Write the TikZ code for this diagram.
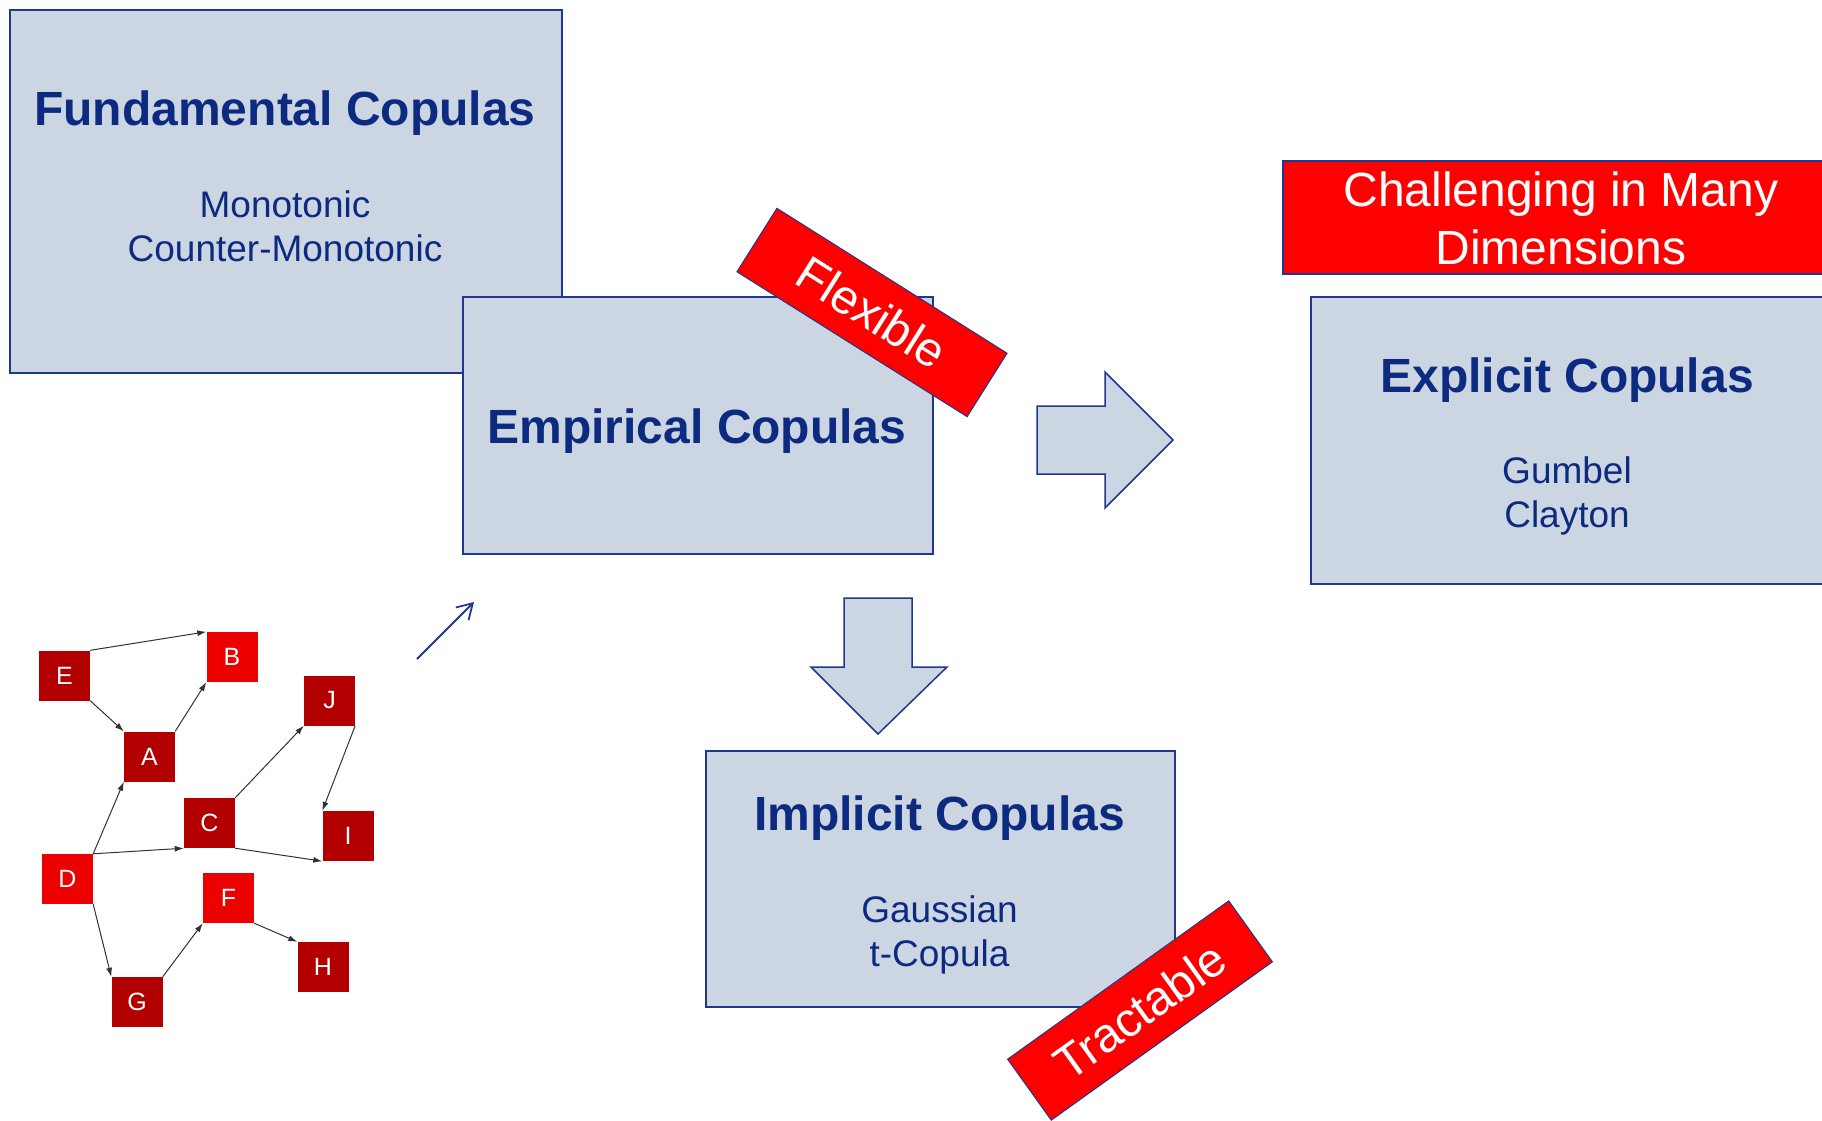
\documentclass[tikz,border=0pt]{standalone}
\usepackage{fontspec}
\setmainfont{Liberation Sans}
\usetikzlibrary{arrows.meta}

\definecolor{boxfill}{RGB}{204,213,226}
\definecolor{boxline}{RGB}{32,56,140}
\definecolor{navy}{RGB}{12,42,128}
\definecolor{tagred}{RGB}{255,0,0}
\definecolor{darknode}{RGB}{178,0,0}
\definecolor{brightnode}{RGB}{236,0,0}
\definecolor{edgegray}{RGB}{50,50,50}

\begin{document}
\begin{tikzpicture}[x=1pt,y=-1pt,
  panel/.style={draw=boxline, line width=1.5pt, fill=boxfill, inner sep=0pt, anchor=north west},
  warnbox/.style={draw=boxline, line width=1.5pt, fill=tagred, inner sep=0pt, anchor=north west},
  titletext/.style={font=\fontsize{48}{56}\selectfont\bfseries, text=navy, anchor=base, inner sep=0pt},
  subtext/.style={font=\fontsize{37}{44}\selectfont, text=navy, anchor=base, inner sep=0pt},
  warntext/.style={font=\fontsize{48}{58}\selectfont, text=white, anchor=base, inner sep=0pt},
  tag/.style={draw=boxline, line width=1pt, fill=tagred, text=white,
    font=\fontsize{48}{58}\selectfont, inner sep=0pt, minimum width=272pt, minimum height=75pt},
  blockarrow/.style={draw=boxline, line width=1.5pt, fill=boxfill, line join=miter},
  gnode/.style={minimum width=51pt, minimum height=50pt, inner sep=0pt, text=white,
    font=\fontsize{25}{29}\selectfont},
  darkg/.style={gnode, fill=darknode},
  brightg/.style={gnode, fill=brightnode},
  gedge/.style={draw=edgegray, line width=1pt, -{Latex[length=9pt,width=6pt]}},
  pointer/.style={draw=boxline, line width=1.8pt, -{Straight Barb[length=15pt,width=18pt,line width=1.8pt]}}
]
\useasboundingbox (0,0) rectangle (1822,1120);
\clip (0,0) rectangle (1822,1120);

% Fundamental copulas panel
\node[panel, minimum width=552pt, minimum height=363pt] (fund) at (9,9) {};
\node[titletext] (fundT) at (285,125) {Fundamental Copulas};
\node[subtext] (fundA) at (285,217) {Monotonic};
\node[subtext] (fundB) at (285,261) {Counter-Monotonic};

% Empirical copulas panel
\node[panel, minimum width=470pt, minimum height=257pt] (emp) at (462,296) {};
\node[titletext] (empT) at (697,443) {Empirical Copulas};

% Explicit copulas panel
\node[panel, minimum width=530pt, minimum height=287pt] (expl) at (1310,296) {};
\node[titletext] (explT) at (1567,392) {Explicit Copulas};
\node[subtext] (explA) at (1567,483) {Gumbel};
\node[subtext] (explB) at (1567,527) {Clayton};

% Implicit copulas panel
\node[panel, minimum width=469pt, minimum height=256pt] (impl) at (705,750) {};
\node[titletext] (implT) at (939.5,830) {Implicit Copulas};
\node[subtext] (implA) at (939.5,922) {Gaussian};
\node[subtext] (implB) at (939.5,966) {t-Copula};

% Warning banner
\node[warnbox, minimum width=560pt, minimum height=113pt] (warn) at (1282,160) {};
\node[warntext] (warnA) at (1561,206) {Challenging in Many};
\node[warntext] (warnB) at (1561,264) {Dimensions};

% Tilted tags
\node[tag, rotate=-32.2] (flex) at (872,312.5) {Flexible};
\node[tag, rotate=35.6] (tract) at (1140,1010.5) {Tractable};

% Block arrows
\draw[blockarrow] (1037,406) -- (1105,406) -- (1105,372) -- (1173,440)
  -- (1105,508) -- (1105,474) -- (1037,474) -- cycle;
\draw[blockarrow] (844,598) -- (912,598) -- (912,667) -- (947,667)
  -- (878,734) -- (811,667) -- (844,667) -- cycle;

% Small pointer towards the empirical panel
\coordinate (p0) at (417,659);
\coordinate (p1) at (474,602);
\draw[pointer] (p0) -- (p1);

% Dependency graph
\node[darkg]   (E) at (64.5,675.5) {E};
\node[brightg] (B) at (232,657)    {B};
\node[darkg]   (J) at (329.5,700.5) {J};
\node[darkg]   (A) at (149.5,756.5) {A};
\node[darkg]   (C) at (209.5,823)  {C};
\node[darkg]   (I) at (348,836)    {I};
\node[brightg] (D) at (67.5,879)   {D};
\node[brightg] (F) at (228.5,898)  {F};
\node[darkg]   (H) at (323,967)    {H};
\node[darkg]   (G) at (137,1002)   {G};

\draw[gedge] (E.north east) -- (B.north west);
\draw[gedge] (E.south east) -- (A.north west);
\draw[gedge] (A.north east) -- (B.south west);
\draw[gedge] (C.north east) -- (J.south west);
\draw[gedge] (J.south east) -- (I.north west);
\draw[gedge] (C.south east) -- (I.south west);
\draw[gedge] (D.north east) -- (A.south west);
\draw[gedge] (D.north east) -- (C.south west);
\draw[gedge] (D.south east) -- (G.north west);
\draw[gedge] (G.north east) -- (F.south west);
\draw[gedge] (F.south east) -- (H.north west);
\end{tikzpicture}
\end{document}
